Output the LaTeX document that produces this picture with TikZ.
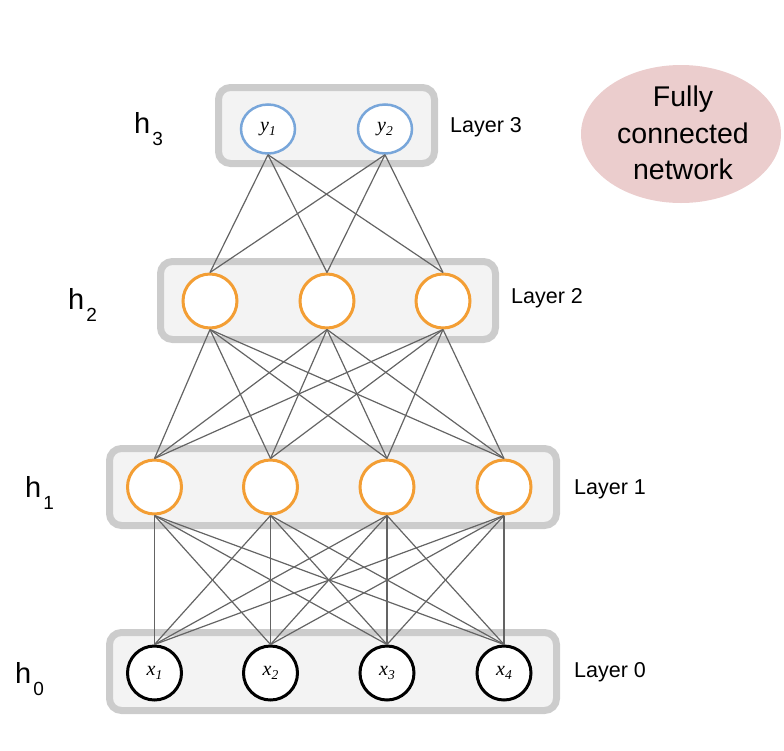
\documentclass[tikz,border=0pt]{standalone}
\usepackage{fontspec}
\setmainfont{Liberation Sans}
\newfontfamily\nodeserif{Liberation Serif}
\usetikzlibrary{shapes.geometric}
\definecolor{boxline}{RGB}{204,204,204}
\definecolor{boxfill}{RGB}{243,243,243}
\definecolor{hidorange}{RGB}{243,158,52}
\definecolor{outblue}{RGB}{120,166,218}
\definecolor{edgegray}{RGB}{100,100,100}
\definecolor{pinkfill}{RGB}{235,205,205}
\newcommand{\hlab}[1]{\fontsize{29}{29}\selectfont h\kern2pt\raisebox{-12pt}{\fontsize{19}{19}\selectfont #1}}
\newcommand{\vlab}[2]{\nodeserif\fontsize{20}{20}\selectfont\textit{#1}\raisebox{-4pt}{\fontsize{13.5}{13.5}\selectfont\textit{#2}}}
\tikzset{
  layerbox/.style={draw=boxline, fill=boxfill, line width=7pt, rounded corners=12pt},
  hidnode/.style={circle, draw=hidorange, fill=white, line width=3pt, minimum size=54pt, inner sep=0pt},
  innode/.style={circle, draw=black, fill=white, line width=3pt, minimum size=54pt, inner sep=0pt},
  outnode/.style={ellipse, draw=outblue, fill=white, line width=2.5pt, minimum width=54pt, minimum height=49pt, inner sep=0pt},
  conn/.style={draw=edgegray, line width=1.2pt},
  layerlab/.style={anchor=west, font=\fontsize{21.5}{21.5}\selectfont, inner sep=0pt},
  hnode/.style={anchor=base west, inner sep=0pt},
}
\begin{document}
\begin{tikzpicture}[x=1pt, y=-1pt]
\useasboundingbox (0,0) rectangle (784,750);
% layer boxes
\draw[layerbox] (218.5,87.5) rectangle (434.5,163.5);
\draw[layerbox] (160.5,261.5) rectangle (495.5,339.5);
\draw[layerbox] (109.5,448.5) rectangle (556.5,525.5);
\draw[layerbox] (109.5,632.5) rectangle (556.5,710.5);
% nodes
\node[outnode] (y1) at (268,129) {\vlab{y}{1}};
\node[outnode] (y2) at (385,129) {\vlab{y}{2}};
\node[hidnode] (b1) at (210,301) {};
\node[hidnode] (b2) at (327,301) {};
\node[hidnode] (b3) at (443,301) {};
\node[hidnode] (a1) at (154.5,487) {};
\node[hidnode] (a2) at (270.5,487) {};
\node[hidnode] (a3) at (387,487) {};
\node[hidnode] (a4) at (504,487) {};
\node[innode] (x1) at (154.5,673) {\vlab{x}{1}};
\node[innode] (x2) at (270.5,673) {\vlab{x}{2}};
\node[innode] (x3) at (387,673) {\vlab{x}{3}};
\node[innode] (x4) at (504,673) {\vlab{x}{4}};
% connectors
\foreach \u in {y1,y2}{\foreach \v in {b1,b2,b3}{\draw[conn] (\u.south) -- (\v.north);}}
\foreach \u in {b1,b2,b3}{\foreach \v in {a1,a2,a3,a4}{\draw[conn] (\u.south) -- (\v.north);}}
\foreach \u in {a1,a2,a3,a4}{\foreach \v in {x1,x2,x3,x4}{\draw[conn] (\u.south) -- (\v.north);}}
% labels
\node[hnode] (h3) at (134,133) {\hlab{3}};
\node[hnode] (h2) at (68,309) {\hlab{2}};
\node[hnode] (h1) at (25,497) {\hlab{1}};
\node[hnode] (h0) at (15,683) {\hlab{0}};
\node[layerlab] (l3) at (450,127) {Layer 3};
\node[layerlab] (l2) at (511,298) {Layer 2};
\node[layerlab] (l1) at (574,489) {Layer 1};
\node[layerlab] (l0) at (574,672) {Layer 0};
% ellipse
\node[ellipse, fill=pinkfill, minimum width=200pt, minimum height=138pt, inner sep=0pt] (fc) at (681,134) {};
\node[align=center, inner sep=0pt, font=\fontsize{28.5}{36.5}\selectfont] (fct) at (683,133) {Fully\\connected\\network};
\end{tikzpicture}
\end{document}
